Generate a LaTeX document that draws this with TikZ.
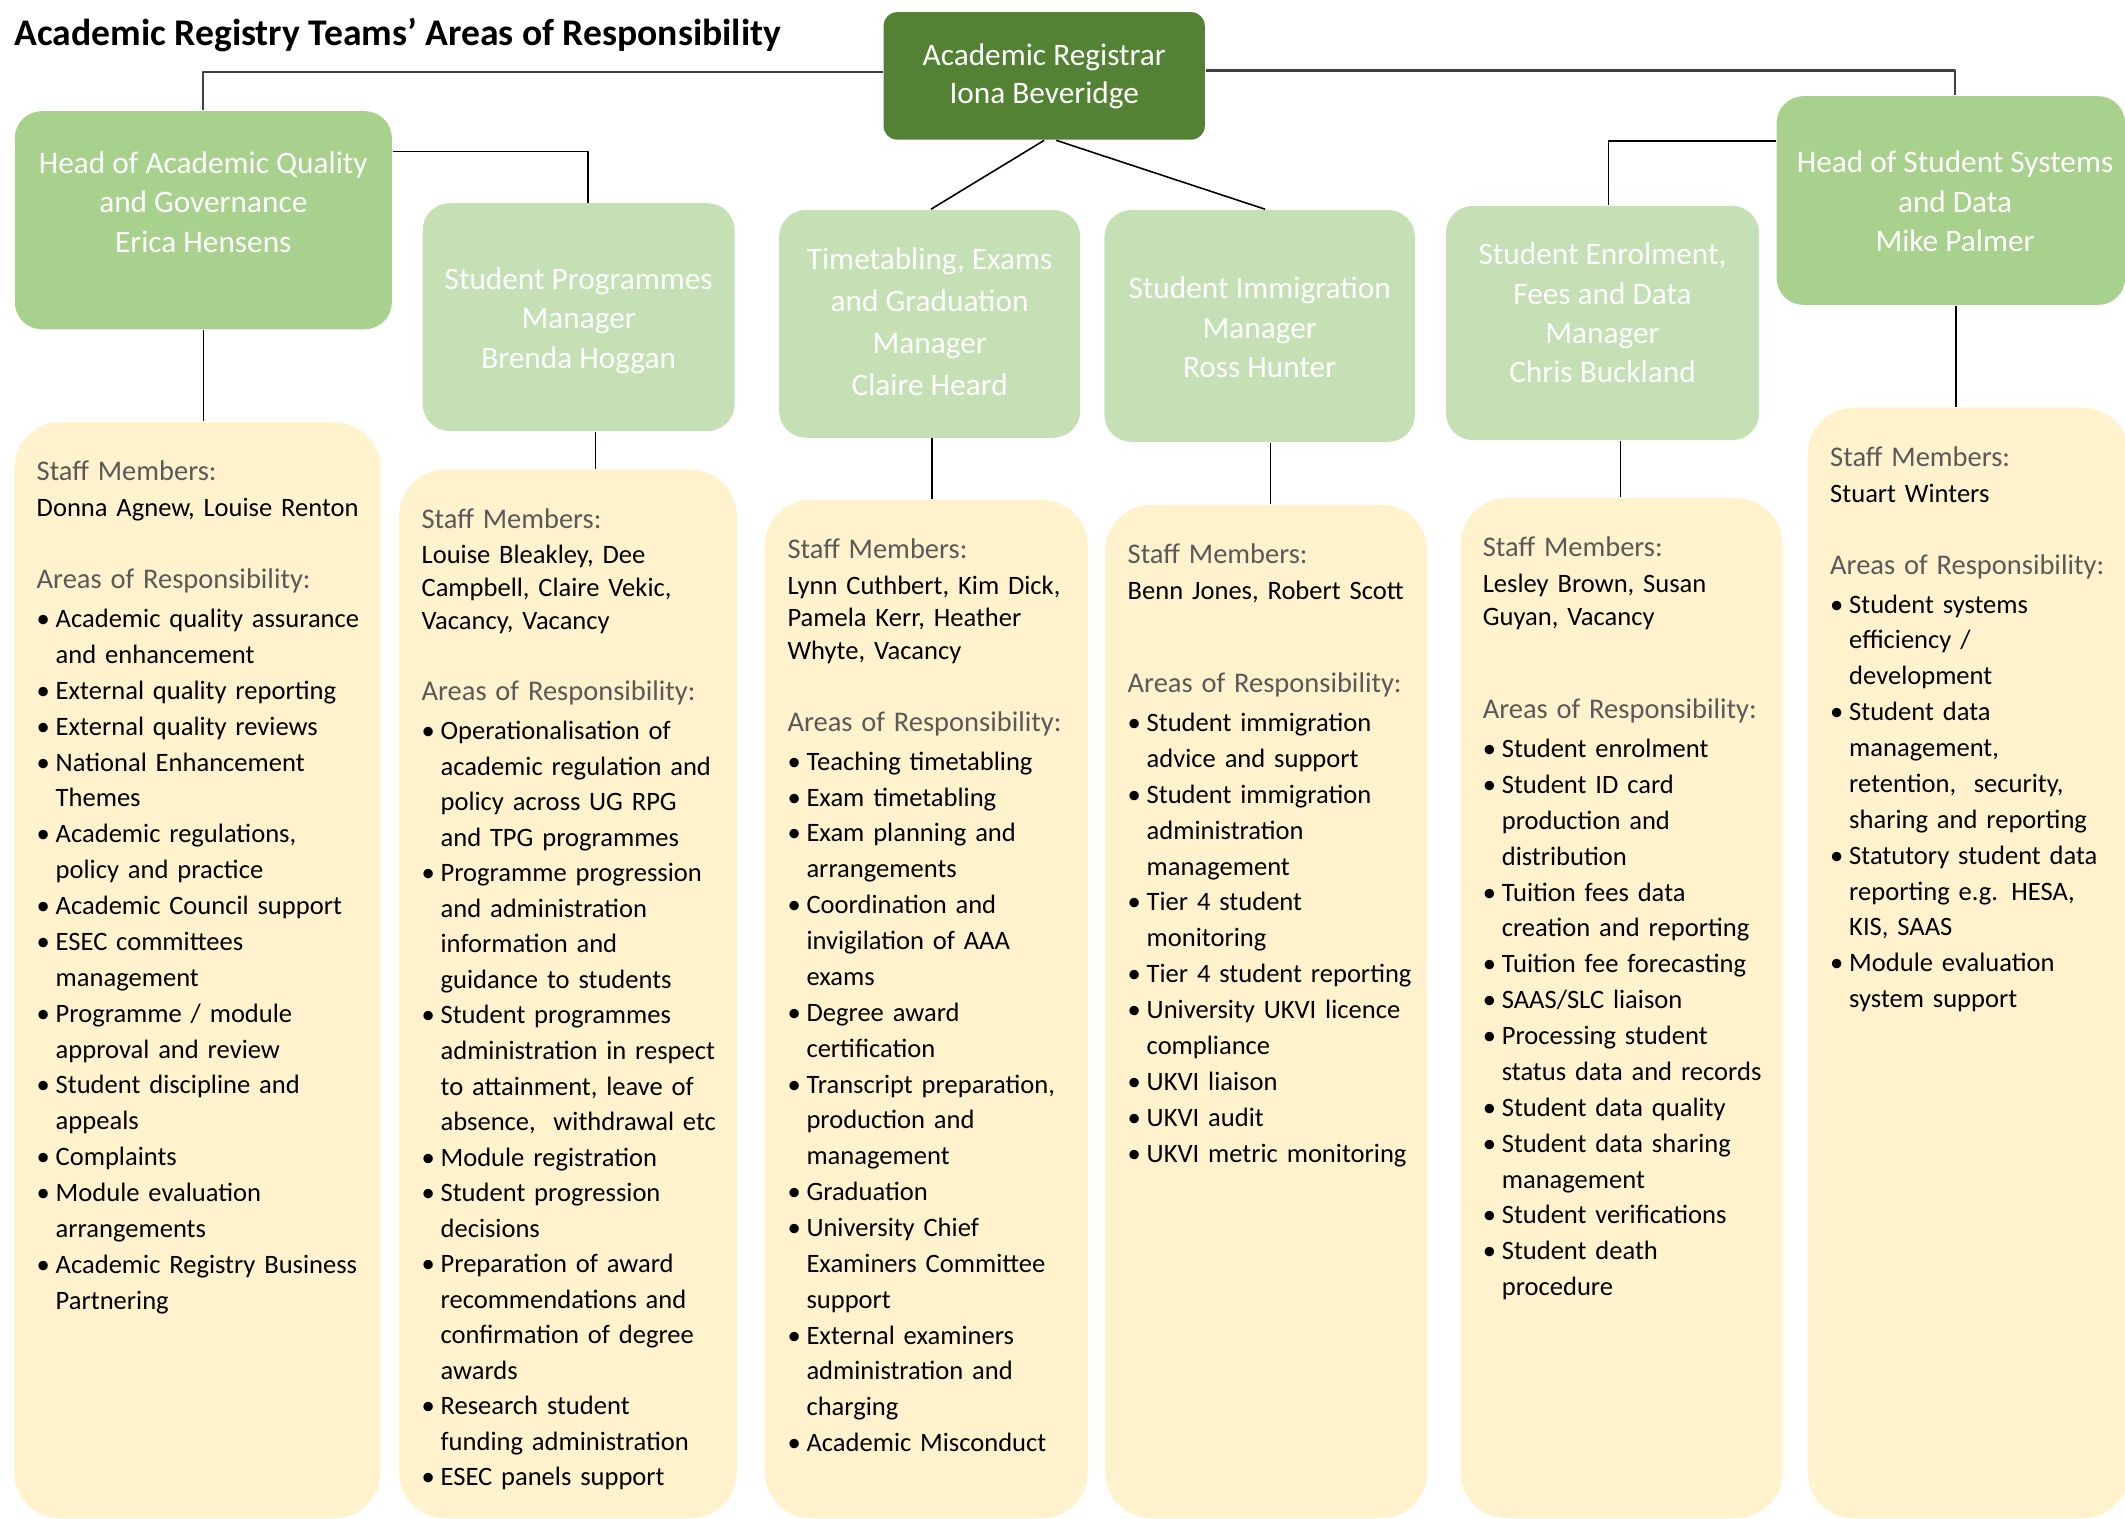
\documentclass[tikz,border=0pt]{standalone}
\usepackage{fontspec}
\setmainfont{Carlito}
\definecolor{regcol}{HTML}{548235}
\definecolor{headcol}{HTML}{A9D18E}
\definecolor{mgrcol}{HTML}{C5E0B4}
\definecolor{teamcol}{HTML}{FFF2CC}
\definecolor{hdgray}{HTML}{595959}
\hyphenpenalty=10000
\newcommand\itm{\makebox[0.19cm][l]{\textbullet}}
\newcommand\cnt{\hspace*{0.19cm}}
\newcommand\hd[1]{{\fontsize{8.1}{10.2}\selectfont\color{hdgray}#1}}
\begin{document}
\begin{tikzpicture}[x=0.01cm,y=0.01cm,line join=round,
	regbox/.style={fill=regcol,rounded corners=0.135cm,minimum width=3.21cm,minimum height=1.274cm,text=white,align=center,inner sep=0pt,font=\fontsize{8.9}{10.8}\selectfont},
	headbox/.style={fill=headcol,rounded corners=0.27cm,inner sep=0pt},
	mgrbox/.style={fill=mgrcol,rounded corners=0.27cm,inner sep=0pt},
	boxtext/.style={text=white,align=center,inner sep=0pt,font=\fontsize{8.9}{11.2}\selectfont},
	teambox/.style={fill=teamcol,rounded corners=0.46cm,anchor=north west,inner sep=0pt},
	teamtext/.style={anchor=north west,align=left,text width=3.6cm,inner sep=0pt,font=\fontsize{7.55}{10.2}\selectfont},
	toplink/.style={draw=black!75,line width=0.6pt},
	link/.style={draw=black,line width=0.45pt}]
	\useasboundingbox (0,0) rectangle (2125,-1519);
	\node[anchor=base west,inner sep=0pt,font=\bfseries\fontsize{10.7}{12}\selectfont] (title) at (13.8,-45.7) {Academic Registry Teams’ Areas of Responsibility};
	
	\node[regbox] (reg) at (1044.2,-75.9) {Academic Registrar\\Iona Beveridge};
	\node[headbox,minimum width=3.768cm,minimum height=2.18cm] (aqg) at (203.3,-220.2) {};
	\node[boxtext] (aqgt) at (203.3,-202) {Head of Academic Quality\\and Governance\\Erica Hensens};
	\node[mgrbox,minimum width=3.117cm,minimum height=2.277cm] (spm) at (578.65,-317.15) {};
	\node[boxtext] (spmt) at (578.65,-320.5) {Student Programmes\\Manager\\Brenda Hoggan};
	\node[mgrbox,minimum width=3.009cm,minimum height=2.277cm] (tt) at (929.65,-323.85) {};
	\node[boxtext,font=\fontsize{8.9}{11.9}\selectfont] (ttt) at (929.65,-321.9) {Timetabling, Exams\\and Graduation\\Manager\\Claire Heard};
	\node[mgrbox,minimum width=3.103cm,minimum height=2.318cm] (sim) at (1259.65,-325.9) {};
	\node[boxtext] (simt) at (1259.65,-327.3) {Student Immigration\\Manager\\Ross Hunter};
	\node[mgrbox,minimum width=3.13cm,minimum height=2.34cm] (sefd) at (1602.5,-323) {};
	\node[boxtext] (sefdt) at (1602.5,-313) {Student Enrolment,\\Fees and Data\\Manager\\Chris Buckland};
	\node[headbox,minimum width=3.483cm,minimum height=2.087cm] (ssd) at (1950.85,-200.55) {};
	\node[boxtext] (ssdt) at (1955,-201.3) {Head of Student Systems\\and Data\\Mike Palmer};
	
	\node[teambox,minimum width=3.66cm,minimum height=10.955cm] (yq) at (13.5,-421.5) {};
	\node[teambox,minimum width=3.375cm,minimum height=10.48cm] (yp) at (398.4,-469) {};
	\node[teambox,minimum width=3.226cm,minimum height=10.18cm] (yt) at (764.3,-499) {};
	\node[teambox,minimum width=3.22cm,minimum height=10.13cm] (yi) at (1104.5,-504) {};
	\node[teambox,minimum width=3.219cm,minimum height=10.195cm] (ye) at (1459.6,-497.5) {};
	\node[teambox,minimum width=3.21cm,minimum height=11.1cm] (ys) at (1807,-407) {};
	
	\draw[toplink] ([yshift=0.041cm]reg.west) -| (aqg.north);
	\draw[toplink] ([yshift=0.054cm]reg.east) -| ([xshift=0.04cm]ssd.north);
	\draw[link] (reg.south) -- ([xshift=0.013cm]tt.north);
	\draw[link] ([xshift=0.12cm]reg.south) -- ([xshift=0.054cm]sim.north);
	\draw[link] ([yshift=0.685cm]aqg.east) -| ([xshift=0.094cm]spm.north);
	\draw[link] ([yshift=0.593cm]ssd.west) -| ([xshift=0.058cm]sefd.north);
	\draw[link] (aqg.south) -- (aqg.south |- yq.north);
	\draw[link] ([xshift=0.1665cm]spm.south) -- ([xshift=0.1665cm]spm.south |- yp.north);
	\draw[link] ([xshift=0.0235cm]tt.south) -- ([xshift=0.0235cm]tt.south |- yt.north);
	\draw[link] ([xshift=0.1075cm]sim.south) -- ([xshift=0.1075cm]sim.south |- yi.north);
	\draw[link] ([xshift=0.18cm]sefd.south) -- ([xshift=0.18cm]sefd.south |- ye.north);
	\draw[link] ([xshift=0.0535cm]ssd.south) -- ([xshift=0.0535cm]ssd.south |- ys.north);
	
	\node[teamtext] (yqt) at ([shift={(22.5,-39)}]yq.north west) {\hd{Staff Members:}\\
		Donna Agnew, Louise Renton\\[10.2pt]
		\hd{Areas of Responsibility:}\\[0.9pt]
		\itm Academic quality assurance\\
		\cnt and enhancement\\
		\itm External quality reporting\\
		\itm External quality reviews\\
		\itm National Enhancement\\
		\cnt Themes\\
		\itm Academic regulations,\\
		\cnt policy and practice\\
		\itm Academic Council support\\
		\itm ESEC committees\\
		\cnt management\\
		\itm Programme / module\\
		\cnt approval and review\\
		\itm Student discipline and\\
		\cnt appeals\\
		\itm Complaints\\
		\itm Module evaluation\\
		\cnt arrangements\\
		\itm Academic Registry Business\\
		\cnt Partnering};
	\node[teamtext,font=\fontsize{7.55}{10.1}\selectfont] (ypt) at ([shift={(22.5,-39)}]yp.north west) {\hd{Staff Members:}\\
		Louise Bleakley, Dee\\[-0.85pt]
		Campbell, Claire Vekic,\\[-0.85pt]
		Vacancy, Vacancy\\[10.3pt]
		\hd{Areas of Responsibility:}\\[1pt]
		\itm Operationalisation of\\
		\cnt academic regulation and\\
		\cnt policy across UG RPG\\
		\cnt and TPG programmes\\
		\itm Programme progression\\
		\cnt and administration\\
		\cnt information and\\
		\cnt guidance to students\\
		\itm Student programmes\\
		\cnt administration in respect\\
		\cnt to attainment, leave of\\
		\cnt absence, \ withdrawal etc\\
		\itm Module registration\\
		\itm Student progression\\
		\cnt decisions\\
		\itm Preparation of award\\
		\cnt recommendations and\\
		\cnt confirmation of degree\\
		\cnt awards\\
		\itm Research student\\
		\cnt funding administration\\
		\itm ESEC panels support};
	\node[teamtext] (ytt) at ([shift={(22.5,-39)}]yt.north west) {\hd{Staff Members:}\\
		Lynn Cuthbert, Kim Dick,\\[-0.95pt]
		Pamela Kerr, Heather\\[-0.95pt]
		Whyte, Vacancy\\[10.2pt]
		\hd{Areas of Responsibility:}\\[0.9pt]
		\itm Teaching timetabling\\
		\itm Exam timetabling\\
		\itm Exam planning and\\
		\cnt arrangements\\
		\itm Coordination and\\
		\cnt invigilation of AAA\\
		\cnt exams\\
		\itm Degree award\\
		\cnt certification\\
		\itm Transcript preparation,\\
		\cnt production and\\
		\cnt management\\
		\itm Graduation\\
		\itm University Chief\\
		\cnt Examiners Committee\\
		\cnt support\\
		\itm External examiners\\
		\cnt administration and\\
		\cnt charging\\
		\itm Academic Misconduct};
	\node[teamtext] (yit) at ([shift={(22.5,-39)}]yi.north west) {\hd{Staff Members:}\\
		Benn Jones, Robert Scott\\[16.3pt]
		\hd{Areas of Responsibility:}\\[0.9pt]
		\itm Student immigration\\
		\cnt advice and support\\
		\itm Student immigration\\
		\cnt administration\\
		\cnt management\\
		\itm Tier 4 student\\
		\cnt monitoring\\
		\itm Tier 4 student reporting\\
		\itm University UKVI licence\\
		\cnt compliance\\
		\itm UKVI liaison\\
		\itm UKVI audit\\
		\itm UKVI metric monitoring};
	\node[teamtext] (yet) at ([shift={(22.5,-39)}]ye.north west) {\hd{Staff Members:}\\
		Lesley Brown, Susan\\[-0.95pt]
		Guyan, Vacancy\\[16.3pt]
		\hd{Areas of Responsibility:}\\[0.9pt]
		\itm Student enrolment\\
		\itm Student ID card\\
		\cnt production and\\
		\cnt distribution\\
		\itm Tuition fees data\\
		\cnt creation and reporting\\
		\itm Tuition fee forecasting\\
		\itm SAAS/SLC liaison\\
		\itm Processing student\\
		\cnt status data and records\\
		\itm Student data quality\\
		\itm Student data sharing\\
		\cnt management\\
		\itm Student verifications\\
		\itm Student death\\
		\cnt procedure};
	\node[teamtext] (yst) at ([shift={(22.5,-39)}]ys.north west) {\hd{Staff Members:}\\
		Stuart Winters\\[10.2pt]
		\hd{Areas of Responsibility:}\\[0.9pt]
		\itm Student systems\\
		\cnt efficiency /\\
		\cnt development\\
		\itm Student data\\
		\cnt management,\\
		\cnt retention, \ security,\\
		\cnt sharing and reporting\\
		\itm Statutory student data\\
		\cnt reporting e.g. HESA,\\
		\cnt KIS, SAAS\\
		\itm Module evaluation\\
		\cnt system support};
\end{tikzpicture}
\end{document}
